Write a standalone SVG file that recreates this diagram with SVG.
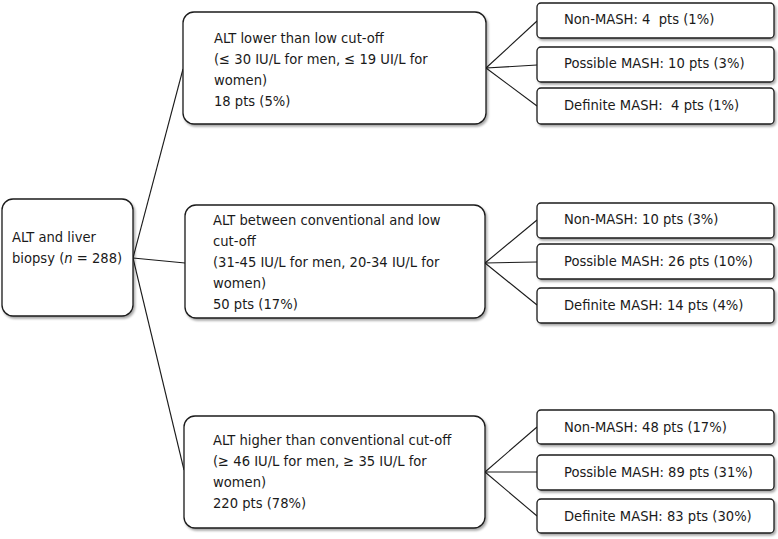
<svg xmlns="http://www.w3.org/2000/svg" width="778" height="539" viewBox="0 0 778 539">
<defs>
<filter id="sh" x="-5%" y="-5%" width="115%" height="120%">
<feDropShadow dx="1.5" dy="2" stdDeviation="1" flood-color="#000" flood-opacity="0.35"/>
</filter>
<style>
.box{fill:#fff;stroke:#1a1a1a;stroke-width:1.3;filter:url(#sh)}
.t{font-family:"DejaVu Sans Condensed","DejaVu Sans",sans-serif;font-size:14.6px;fill:#1a1a1a;white-space:pre}
.c{stroke:#1a1a1a;stroke-width:1.1;fill:none}
</style>
</defs>
<rect width="778" height="539" fill="#fff"/>
<g id="connectors">
<line class="c" x1="133" y1="258" x2="183" y2="69"/>
<line class="c" x1="133" y1="258" x2="185" y2="263"/>
<line class="c" x1="133" y1="258" x2="184" y2="470"/>
<line class="c" x1="486" y1="68" x2="537" y2="21"/>
<line class="c" x1="486" y1="68" x2="537" y2="65"/>
<line class="c" x1="486" y1="68" x2="537" y2="106"/>
<line class="c" x1="485" y1="263" x2="537" y2="220"/>
<line class="c" x1="485" y1="263" x2="537" y2="262"/>
<line class="c" x1="485" y1="263" x2="537" y2="305"/>
<line class="c" x1="485" y1="472" x2="537" y2="427"/>
<line class="c" x1="485" y1="472" x2="537" y2="472"/>
<line class="c" x1="485" y1="472" x2="537" y2="516"/>
</g>
<g id="root">
<rect class="box" x="2" y="199" width="131" height="117" rx="11"/>
<text class="t" x="12" y="242">ALT and liver</text>
<text class="t" x="12" y="263">biopsy (<tspan font-style="italic">n</tspan> = 288)</text>
</g>
<g id="low">
<rect class="box" x="183" y="12" width="303" height="112" rx="11"/>
<text class="t" x="214" y="43">ALT lower than low cut-off</text>
<text class="t" x="214" y="64">(≤ 30 IU/L for men, ≤ 19 UI/L for</text>
<text class="t" x="214" y="85">women)</text>
<text class="t" x="214" y="106">18 pts (5%)</text>
</g>
<g id="mid">
<rect class="box" x="185" y="205" width="300" height="113" rx="11"/>
<text class="t" x="213" y="225">ALT between conventional and low</text>
<text class="t" x="213" y="246">cut-off</text>
<text class="t" x="213" y="267">(31-45 IU/L for men, 20-34 IU/L for</text>
<text class="t" x="213" y="288">women)</text>
<text class="t" x="213" y="309">50 pts (17%)</text>
</g>
<g id="high">
<rect class="box" x="184" y="416" width="301" height="112" rx="11"/>
<text class="t" x="213" y="445">ALT higher than conventional cut-off</text>
<text class="t" x="213" y="466">(≥ 46 IU/L for men, ≥ 35 IU/L for</text>
<text class="t" x="213" y="487">women)</text>
<text class="t" x="213" y="508">220 pts (78%)</text>
</g>
<g id="low-non">
<rect class="box" x="537" y="3" width="237" height="35" rx="4"/>
<text class="t" x="564" y="24">Non-MASH: 4  pts (1%)</text>
</g>
<g id="low-possible">
<rect class="box" x="537" y="47" width="237" height="35" rx="4"/>
<text class="t" x="564" y="68">Possible MASH: 10 pts (3%)</text>
</g>
<g id="low-definite">
<rect class="box" x="537" y="88" width="237" height="36" rx="4"/>
<text class="t" x="564" y="110">Definite MASH:  4 pts (1%)</text>
</g>
<g id="mid-non">
<rect class="box" x="537" y="203" width="237" height="35" rx="4"/>
<text class="t" x="564" y="224">Non-MASH: 10 pts (3%)</text>
</g>
<g id="mid-possible">
<rect class="box" x="537" y="244" width="237" height="35" rx="4"/>
<text class="t" x="564" y="266">Possible MASH: 26 pts (10%)</text>
</g>
<g id="mid-definite">
<rect class="box" x="537" y="288" width="237" height="35" rx="4"/>
<text class="t" x="564" y="310">Definite MASH: 14 pts (4%)</text>
</g>
<g id="high-non">
<rect class="box" x="537" y="410" width="237" height="34" rx="4"/>
<text class="t" x="564" y="432">Non-MASH: 48 pts (17%)</text>
</g>
<g id="high-possible">
<rect class="box" x="537" y="455" width="237" height="35" rx="4"/>
<text class="t" x="564" y="477">Possible MASH: 89 pts (31%)</text>
</g>
<g id="high-definite">
<rect class="box" x="537" y="499" width="237" height="34" rx="4"/>
<text class="t" x="564" y="521">Definite MASH: 83 pts (30%)</text>
</g>
</svg>
